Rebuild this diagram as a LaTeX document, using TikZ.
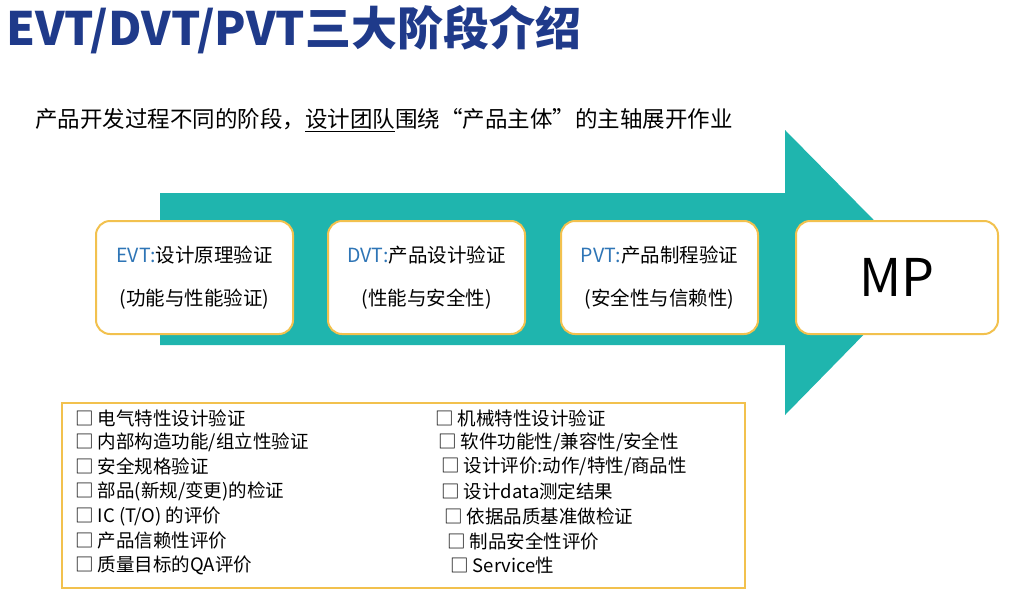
\documentclass[tikz,border=0pt]{standalone}
\usepackage{fontspec}
\setmainfont{Noto Sans CJK SC}
\definecolor{ttl}{HTML}{1F3A8A}
\definecolor{teal}{HTML}{1FB5AE}
\definecolor{gold}{HTML}{F2C14E}
\definecolor{bl}{HTML}{2E75B6}
\newcommand{\myul}[1]{\underline{#1}}
\begin{document}
\begin{tikzpicture}[x=1pt,y=-1pt,
  stage/.style={draw=gold,line width=2pt,fill=white,rounded corners=14pt,minimum width=197pt,minimum height=113pt,anchor=north west,align=center,font=\fontsize{19.5}{43}\selectfont},
  item/.style={anchor=west,inner sep=0pt,font=\fontsize{18.5}{20}\selectfont}]
\useasboundingbox (0,0) rectangle (1024,613);
\node[anchor=west,inner sep=0pt,text=ttl,font=\fontsize{46}{50}\selectfont\bfseries] (title) at (6,30) {EVT/DVT/PVT三大阶段介绍};
\node[anchor=west,inner sep=0pt,font=\fontsize{22.5}{26}\selectfont] (sub) at (35,120) {产品开发过程不同的阶段，\myul{设计团队}围绕“产品主体”的主轴展开作业};
\fill[teal] (160,193) -- (785,193) -- (785,130) -- (925,272) -- (785,415) -- (785,345) -- (160,345) -- cycle;
\node[stage] (evt) at (95,220) {\textcolor{bl}{EVT:}设计原理验证\\(功能与性能验证)};
\node[stage] (dvt) at (327,220) {\textcolor{bl}{DVT:}产品设计验证\\(性能与安全性)};
\node[stage] (pvt) at (560,220) {\textcolor{bl}{PVT:}产品制程验证\\(安全性与信赖性)};
\node[stage,minimum width=202pt,font=\fontsize{52}{56}\selectfont] (mp) at (795,220) {MP};
\draw[gold,line width=2pt] (62,403) rectangle (745,588);
\node[item] (l1) at (75,418) {□ 电气特性设计验证};
\node[item] (l2) at (75,442) {□ 内部构造功能/组立性验证};
\node[item] (l3) at (75,466) {□ 安全规格验证};
\node[item] (l4) at (75,491) {□ 部品(新规/变更)的检证};
\node[item] (l5) at (75,516) {□ IC (T/O) 的评价};
\node[item] (l6) at (75,541) {□ 产品信赖性评价};
\node[item] (l7) at (75,565) {□ 质量目标的QA评价};
\node[item] (r1) at (435,418) {□ 机械特性设计验证};
\node[item] (r2) at (438,442) {□ 软件功能性/兼容性/安全性};
\node[item] (r3) at (441,466) {□ 设计评价:动作/特性/商品性};
\node[item] (r4) at (441,491) {□ 设计data测定结果};
\node[item] (r5) at (444,516) {□ 依据品质基准做检证};
\node[item] (r6) at (447,541) {□ 制品安全性评价};
\node[item] (r7) at (450,565) {□ Service性};
\end{tikzpicture}
\end{document}
